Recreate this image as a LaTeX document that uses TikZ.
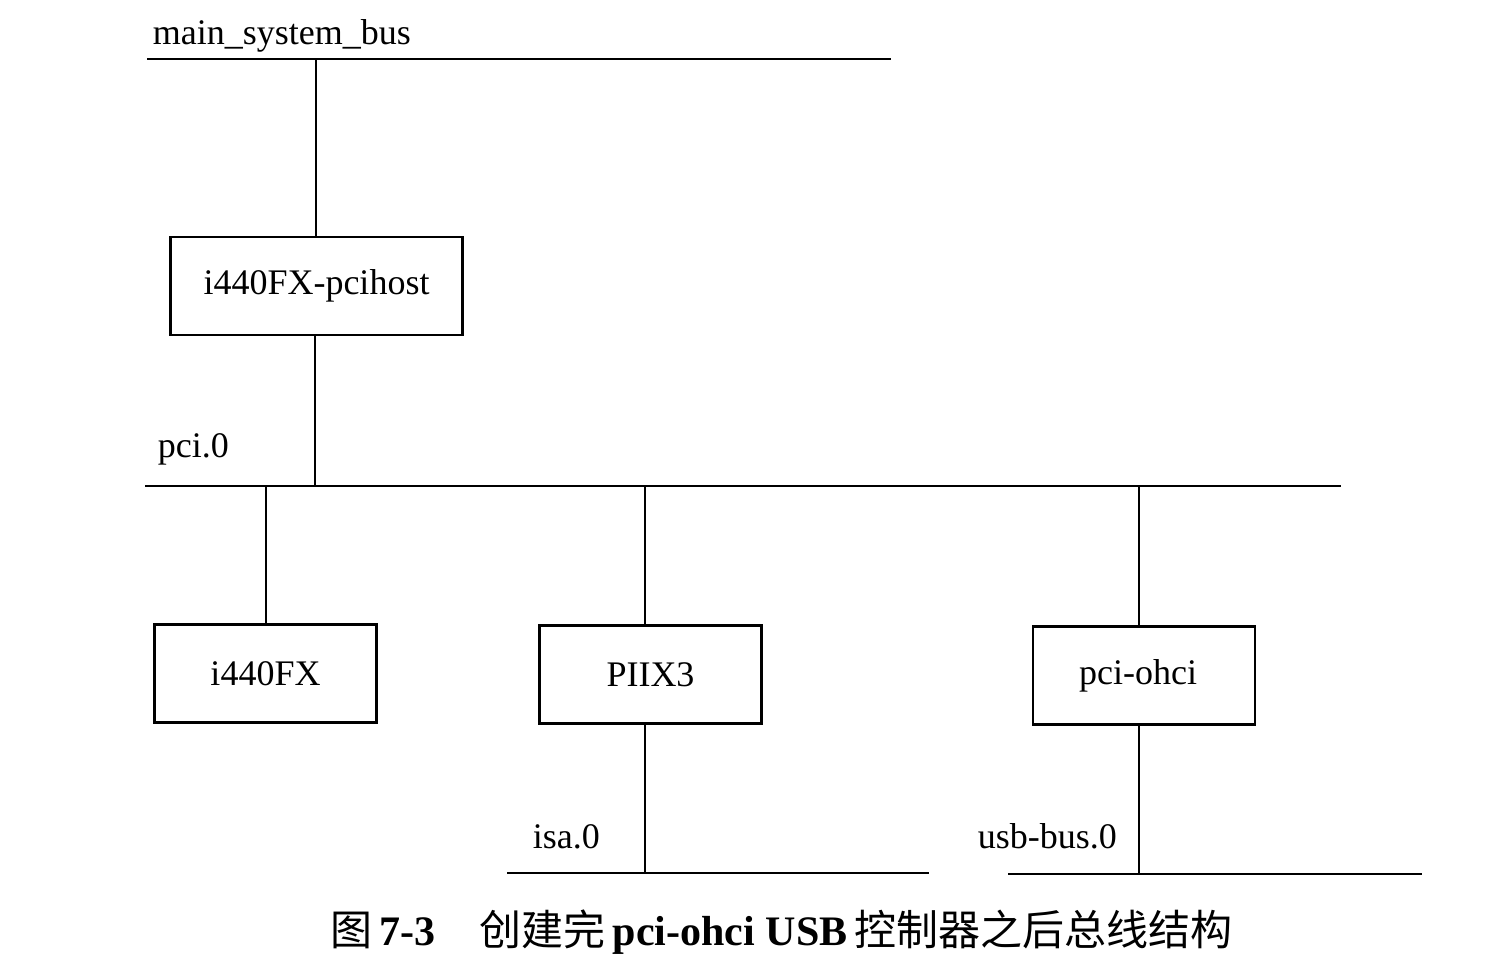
\documentclass[tikz,border=0pt]{standalone}
\usepackage{fontspec}
\setmainfont{Liberation Serif}
\newfontfamily\cjk{Noto Sans CJK SC}
\begin{document}
\begin{tikzpicture}[x=0.5pt,y=-0.5pt,
  line width=0.9pt,
  lbl/.style={font=\fontsize{18}{21}\selectfont, inner sep=0pt},
  devbox/.style={draw, line width=1.1pt, minimum width=111pt, minimum height=49pt, font=\fontsize{18}{21}\selectfont, inner sep=0pt},
  bus/.style={line width=0.9pt}]
\useasboundingbox (0,0) rectangle (1507,971);
% main system bus
\node[lbl, anchor=base west] (msbl) at (152,44) {main\_system\_bus};
\coordinate (msbA) at (147,59);
\coordinate (msbB) at (891,59);
\draw[bus] (msbA) -- (msbB);
% host box
\node[devbox, minimum width=146pt] (host) at (316.5,286) {i440FX-pcihost};
\coordinate (j0) at (316,59);
\draw (j0) -- (j0 |- host.north);
% pci.0
\node[lbl, anchor=base west] (pcil) at (157,457) {pci.0};
\coordinate (pciA) at (145,486);
\coordinate (pciB) at (1341,486);
\draw[bus] (pciA) -- (pciB);
\coordinate (j1) at (315,486);
\draw (j1 |- host.south) -- (j1);
% devices
\node[devbox] (fx) at (265.5,673.5) {i440FX};
\node[devbox] (piix) at (650.5,674.5) {PIIX3};
\node[devbox] (ohci) at (1144,675.5) {\hspace{-6pt}pci-ohci};
\coordinate (j2) at (266,486);
\coordinate (j3) at (645,486);
\coordinate (j4) at (1139,486);
\draw (j2) -- (j2 |- fx.north);
\draw (j3) -- (j3 |- piix.north);
\draw (j4) -- (j4 |- ohci.north);
% isa.0
\node[lbl, anchor=base west] (isal) at (532,848) {isa.0};
\coordinate (isaA) at (507,873);
\coordinate (isaB) at (929,873);
\draw[bus] (isaA) -- (isaB);
\coordinate (j5) at (645,873);
\draw (j5 |- piix.south) -- (j5);
% usb-bus.0
\node[lbl, anchor=base west] (usbl) at (977,848) {usb-bus.0};
\coordinate (usbA) at (1008,874);
\coordinate (usbB) at (1422,874);
\draw[bus] (usbA) -- (usbB);
\coordinate (j6) at (1139,874);
\draw (j6 |- ohci.south) -- (j6);
% caption
\node[anchor=base west, inner sep=0pt, font=\fontsize{21}{25}\selectfont\bfseries] (cap) at (330,945)
  {{\cjk\mdseries 图}\,7-3\hspace{22pt}{\cjk\mdseries 创建完}\,pci-ohci USB\,{\cjk\mdseries 控制器之后总线结构}};
\end{tikzpicture}
\end{document}
